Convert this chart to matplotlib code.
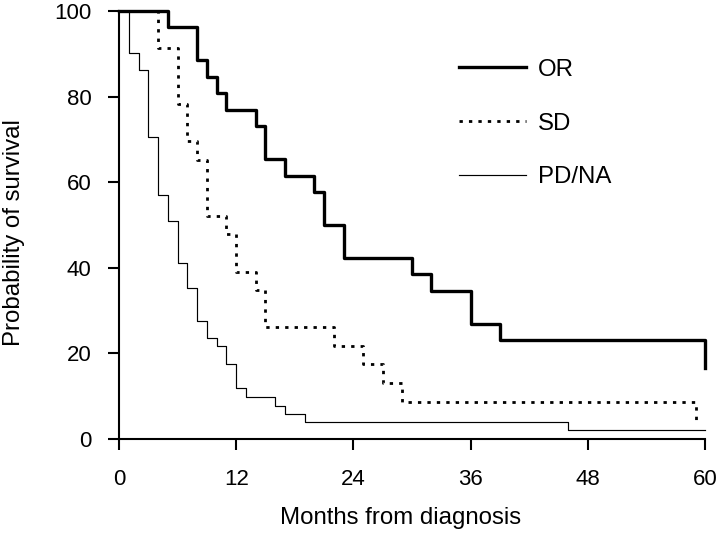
import matplotlib
matplotlib.use("Agg")
import matplotlib.pyplot as plt

plt.rcParams['font.family'] = ['Liberation Sans', 'DejaVu Sans']

or_months = [0, 5, 8, 9, 10, 11, 14, 15, 17, 20, 21, 23, 30, 32, 36, 39, 60]
or_surv = [100, 96.2, 88.5, 84.6, 80.8, 76.9, 73.1, 65.4, 61.5, 57.7, 50.0, 42.3, 38.5, 34.6, 26.9, 23.1, 16.6]

sd_months = [0, 4, 6, 7, 8, 9, 11, 12, 14, 15, 22, 25, 27, 29, 59.1]
sd_surv = [100, 91.3, 78.3, 69.6, 65.2, 52.2, 47.8, 39.1, 34.8, 26.1, 21.7, 17.4, 13.0, 8.7, 4.3]

pd_months = [0, 1, 2, 3, 4, 5, 6, 7, 8, 9, 10, 11, 12, 13, 16, 17, 19, 46, 60]
pd_surv = [100, 90.2, 86.3, 70.6, 56.9, 51.0, 41.2, 35.3, 27.5, 23.5, 21.6, 17.6, 11.8, 9.8, 7.8, 5.9, 3.9, 2.0, 2.0]

x_ticks = [0, 12, 24, 36, 48, 60]
y_ticks = [0, 20, 40, 60, 80, 100]

fig = plt.figure(figsize=(7.23, 5.34), dpi=100)
ax = fig.add_axes([0.1646, 0.178, 0.8104, 0.8015])

ax.step(or_months, or_surv, where='post', color='black', lw=2.4, label='OR', clip_on=False)
ax.step(sd_months, sd_surv, where='post', color='black', lw=2.0, linestyle=(0, (1.2, 2.2)), label='SD', clip_on=False)
ax.step(pd_months, pd_surv, where='post', color='black', lw=0.85, label='PD/NA', clip_on=False)

ax.set_xlim(0, 60)
ax.set_ylim(0, 100)
ax.set_xticks(x_ticks)
ax.set_yticks(y_ticks)
ax.tick_params(direction='out', length=8.2, width=1.5, labelsize=16)
ax.tick_params(axis='x', pad=13.5)
ax.tick_params(axis='y', pad=11.5)
for s in ['top', 'right']:
    ax.spines[s].set_visible(False)
for s in ['left', 'bottom']:
    ax.spines[s].set_linewidth(1.5)

ax.set_xlabel('Months from diagnosis', fontsize=17.3)
ax.set_ylabel('Probability of survival', fontsize=17.3)
ax.xaxis.set_label_coords(0.48, -0.159)
ax.yaxis.set_label_coords(-0.160, 0.482)

leg = ax.legend(loc='upper left', bbox_to_anchor=(0.580, 0.888), frameon=False,
                fontsize=17.3, handlelength=2.8, handletextpad=0.5, labelspacing=1.32,
                borderpad=0, borderaxespad=0)

fig.savefig('out.png', dpi=100)
